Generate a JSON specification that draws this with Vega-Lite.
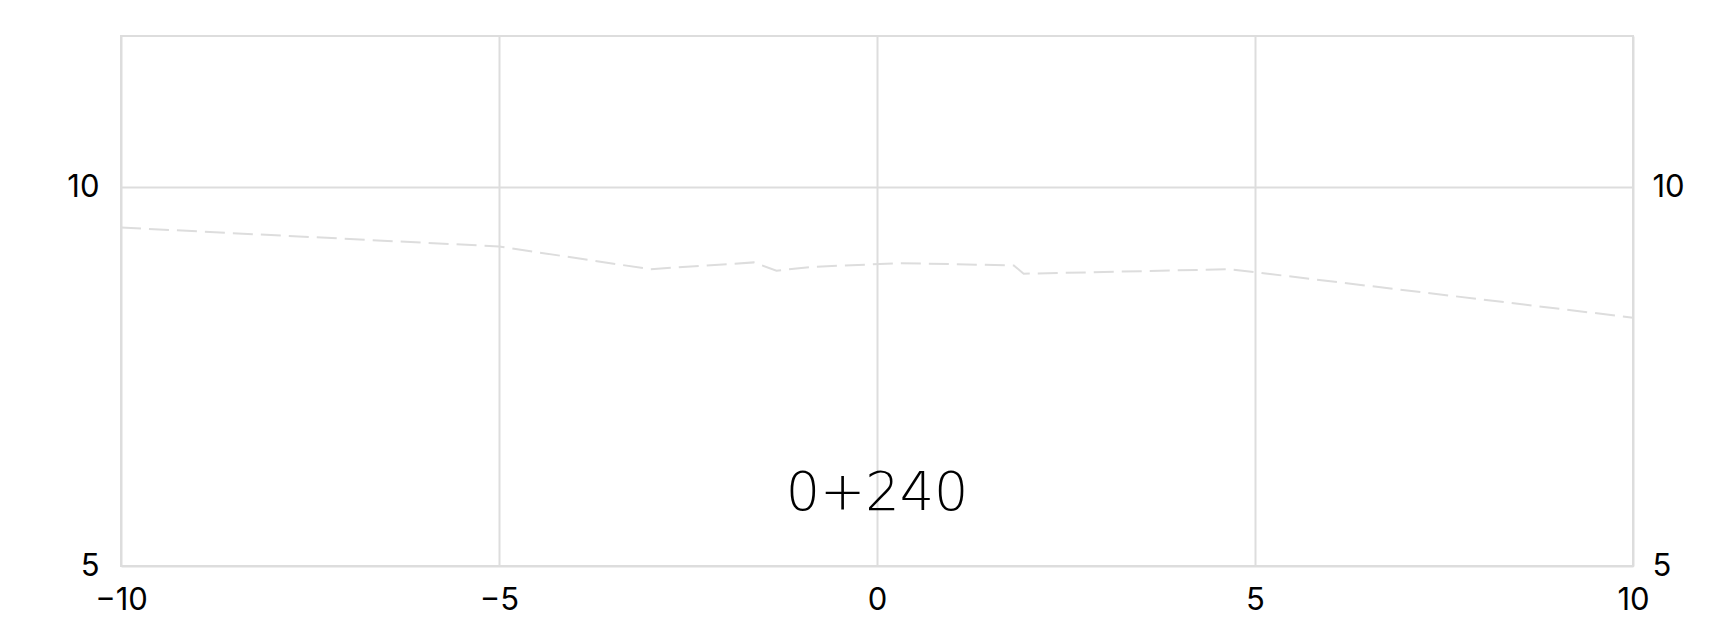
{
  "$schema": "https://vega.github.io/schema/vega-lite/v6.json",
  "width": 1512,
  "height": 530,
  "autosize": {"type": "none"},
  "padding": {"left": 121, "top": 36, "right": 86, "bottom": 64},
  "background": "white",
  "config": {
    "view": {"stroke": "#dddddd", "strokeWidth": 2},
    "axis": {
      "domain": false,
      "ticks": false,
      "tickSize": 0,
      "gridColor": "#dddddd",
      "gridWidth": 2,
      "labelFont": "Inter",
      "labelFontSize": 31,
      "labelColor": "#000000",
      "labelFlush": false,
      "labelOverlap": false,
      "format": "d",
      "title": null
    }
  },
  "datasets": {
    "profile": [
      {"x": -10, "y": 9.47},
      {"x": -5, "y": 9.22},
      {"x": -3.0, "y": 8.92},
      {"x": -1.63, "y": 9.01},
      {"x": -1.33, "y": 8.9},
      {"x": -0.87, "y": 8.95},
      {"x": 0.3, "y": 9.0},
      {"x": 1.81, "y": 8.97},
      {"x": 1.94, "y": 8.86},
      {"x": 4.67, "y": 8.92},
      {"x": 10, "y": 8.28}
    ],
    "station": [
      {"x": 0, "y": 6, "label": "0+240"}
    ]
  },
  "layer": [
    {
      "data": {"name": "profile"},
      "mark": {"type": "line", "color": "#dddddd", "strokeWidth": 2, "strokeDash": [20, 8]},
      "encoding": {
        "x": {
          "field": "x", "type": "quantitative",
          "scale": {"domain": [-10, 10], "nice": false},
          "axis": {"values": [-10, -5, 0, 5, 10], "labelPadding": 19, "grid": true}
        },
        "y": {
          "field": "y", "type": "quantitative",
          "scale": {"domain": [5, 12], "nice": false, "zero": false},
          "axis": {"orient": "left", "values": [5, 10], "labelPadding": 22, "grid": true}
        }
      }
    },
    {
      "data": {"name": "station"},
      "mark": {"type": "text", "font": "DejaVu Sans", "fontWeight": 200, "fontSize": 54, "color": "#000000", "baseline": "middle", "align": "center", "dy": 4},
      "encoding": {
        "x": {"field": "x", "type": "quantitative"},
        "y": {
          "field": "y", "type": "quantitative",
          "axis": {"orient": "right", "values": [5, 10], "labelPadding": 19, "grid": false}
        },
        "text": {"field": "label"}
      }
    }
  ],
  "resolve": {"axis": {"y": "independent"}}
}
